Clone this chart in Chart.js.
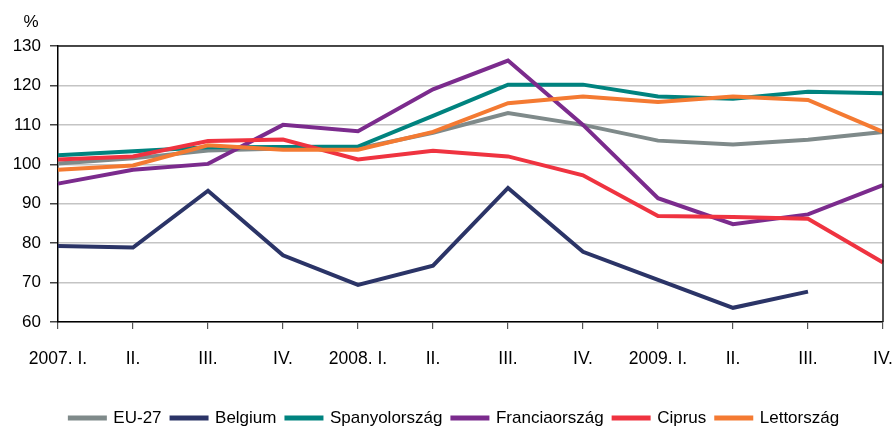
<!DOCTYPE html>
<html>
<head>
<meta charset="utf-8">
<script src="https://cdn.jsdelivr.net/npm/chart.js@4/dist/chart.umd.min.js"></script>
<style>
  html, body { margin: 0; padding: 0; background: #ffffff; }
  #wrap { width: 893px; height: 430px; }
</style>
</head>
<body>
<div id="wrap"><canvas id="c" width="893" height="430"></canvas></div>
<script>
const categories = ["2007. I.", "II.", "III.", "IV.", "2008. I.", "II.", "III.", "IV.", "2009. I.", "II.", "III.", "IV."];
const eu27 = [100.2, 101.5, 103.5, 104.0, 104.0, 108.0, 113.0, 110.0, 106.0, 105.0, 106.2, 108.2];
const belgium = [79.3, 78.9, 93.3, 76.9, 69.4, 74.3, 94.0, 77.8, 70.7, 63.6, 67.7, null];
const spanyol = [102.3, 103.3, 104.3, 104.4, 104.5, 112.3, 120.2, 120.2, 117.2, 116.6, 118.4, 118.0];
const francia = [95.1, 98.6, 100.1, 110.0, 108.4, 119.0, 126.3, 110.0, 91.4, 84.8, 87.3, 94.7];
const ciprus = [101.2, 102.0, 105.9, 106.3, 101.2, 103.4, 102.0, 97.2, 86.9, 86.6, 86.2, 75.1];
const lett = [98.6, 99.7, 104.8, 103.7, 103.7, 108.2, 115.5, 117.2, 115.8, 117.2, 116.3, 108.2];
const seriesNames = ["EU-27", "Belgium", "Spanyolország", "Franciaország", "Ciprus", "Lettország"];
const yTicks = [60, 70, 80, 90, 100, 110, 120, 130];
const unitLabel = "%";

const colors = ["#7f8a8a", "#2b3467", "#00837f", "#7b2b8d", "#ef3340", "#f47a32"];
const allSeries = [eu27, belgium, spanyol, francia, ciprus, lett];

const FONT = "'Liberation Sans', Arial, sans-serif";

const datasets = allSeries.map((d, i) => ({
  label: seriesNames[i],
  data: d,
  borderColor: colors[i],
  backgroundColor: colors[i],
  borderWidth: 4,
  pointRadius: 0,
  pointHoverRadius: 0,
  tension: 0,
  fill: false,
  spanGaps: false,
  order: allSeries.length - i
}));

const extras = {
  id: 'extras',
  afterLayout(chart) {
    const L = chart.legend;
    if (!L) return;
    const cur = L.top + 10 + 17 / 2;
    const dy = 418 - cur;
    L.top += dy; L.bottom += dy;
    L.left += 13; L.right += 13;
  },
  afterDraw(chart) {
    const { ctx, chartArea } = chart;
    ctx.save();
    ctx.strokeStyle = '#1a1a1a';
    ctx.lineWidth = 1.5;
    ctx.beginPath();
    ctx.moveTo(chartArea.left, chartArea.top);
    ctx.lineTo(chartArea.right, chartArea.top);
    ctx.lineTo(chartArea.right, chartArea.bottom);
    ctx.stroke();
    ctx.fillStyle = '#000';
    ctx.font = "17px " + FONT;
    ctx.textAlign = 'center';
    ctx.textBaseline = 'alphabetic';
    ctx.fillText(unitLabel, 31, 27);
    ctx.restore();
  }
};

new Chart(document.getElementById('c'), {
  type: 'line',
  data: { labels: categories, datasets },
  options: {
    responsive: false,
    animation: false,
    devicePixelRatio: 1,
    layout: { padding: { left: 0, right: 10, top: 46, bottom: 0 } },
    plugins: {
      legend: {
        position: 'bottom',
        labels: {
          boxWidth: 35,
          boxHeight: 1,
          padding: 10,
          color: '#000',
          font: { family: FONT, size: 17 },
          sort: (a, b) => a.datasetIndex - b.datasetIndex
        }
      },
      tooltip: { enabled: false },
      title: { display: false }
    },
    scales: {
      x: {
        offset: false,
        grid: { display: true, drawOnChartArea: false, drawTicks: true, tickLength: 7, color: '#555', lineWidth: 1.2 },
        border: { display: true, color: '#000', width: 1.5 },
        ticks: { color: '#000', font: { family: FONT, size: 17.5 }, padding: 20, maxRotation: 0, autoSkip: false },
        afterFit(scale) {
          const lh = scale.chart.legend ? scale.chart.legend.height : 37;
          scale.height = 108 - lh;
          scale.paddingRight = 0;
          scale.paddingLeft = 0;
        }
      },
      y: {
        min: 60, max: 130,
        afterBuildTicks(scale) { scale.ticks = yTicks.map(v => ({ value: v })); },
        grid: {
          color: '#c4c4c4',
          lineWidth: 1.5,
          tickLength: 8,
          tickColor: '#444',
          drawTicks: true
        },
        border: { display: true, color: '#000', width: 1.5 },
        ticks: { color: '#000', font: { family: FONT, size: 17 }, padding: 9 },
        afterFit(scale) { scale.width = 58; }
      }
    }
  },
  plugins: [extras]
});
</script>
</body>
</html>
